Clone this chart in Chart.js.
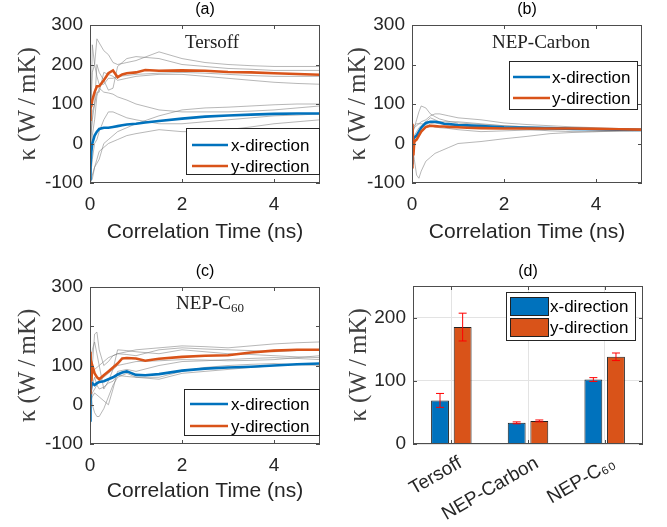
<!DOCTYPE html>
<html>
<head>
  <meta name="viewport" content="width=device-width, initial-scale=1.0">
  <title>Thermal conductivity panels</title>
  <script src="https://cdn.jsdelivr.net/npm/chart.js"></script>
  <style>
    body { margin: 0; padding: 0; background: #fff; }
    #wrap { position: relative; width: 667px; height: 527px; }
    canvas { position: absolute; }
  </style>
</head>
<body>
<div id="wrap">
  <canvas id="ca" width="333" height="255" style="left:0;top:0"></canvas>
  <canvas id="cb" width="334" height="255" style="left:333px;top:0"></canvas>
  <canvas id="cc" width="333" height="272" style="left:0;top:255px"></canvas>
  <canvas id="cd" width="334" height="272" style="left:333px;top:255px"></canvas>
</div>
<script>
  // time grids (ns)
  const tMain = [0, 0.01, 0.03, 0.05, 0.1, 0.15, 0.2, 0.3, 0.4, 0.5, 0.6, 0.7, 0.8, 1, 1.2, 1.5, 2, 2.5, 3, 3.5, 4, 4.5, 5];
  const tGrid = [0, 0.05, 0.1, 0.15, 0.2, 0.3, 0.4, 0.5, 0.6, 0.8, 1, 1.5, 2, 2.5, 3, 3.5, 4, 4.5, 5];

  // (a) Tersoff
  const tersoffX = [-90, -60, -20, 0, 20, 30, 37, 40, 40, 42, 44, 46, 48, 50, 53, 57, 63, 68, 71, 73, 75, 76, 76];
  const tersoffY = [60, 90, 95, 110, 130, 145, 145, 160, 178, 185, 168, 175, 178, 180, 186, 184, 185, 184, 181, 180, 178, 176, 174];
  const tersoffRuns = [
    [-100, 250, 200, 265, 255, 235, 225, 205, 200, 205, 210, 232, 215, 205, 200, 197, 195, 195, 195],
    [-50, 80, 100, 200, 180, 160, 135, 140, 195, 215, 220, 215, 200, 195, 190, 188, 185, 185, 185],
    [0, 60, 100, 130, 130, 180, 175, 170, 160, 165, 170, 175, 175, 170, 165, 160, 155, 152, 150],
    [-100, 20, 60, 120, 140, 130, 128, 125, 118, 110, 100, 85, 80, 80, 80, 82, 85, 90, 95],
    [-100, -80, -60, -50, -40, 0, 10, 20, 30, 40, 50, 70, 85, 90, 92, 95, 98, 100, 100],
    [-100, -90, -60, -40, -20, -10, 0, 5, 10, 20, 25, 35, 30, 30, 35, 42, 50, 55, 60],
    [50, 180, 200, 170, 150, 150, 165, 165, 170, 172, 175, 178, 180, 178, 175, 172, 170, 170, 170],
    [-100, -40, 0, 10, 30, 60, 80, 80, 75, 65, 60, 50, 50, 55, 60, 65, 70, 72, 75]
  ];

  // (b) NEP-Carbon
  const carbonX = [-50, -20, 10, 15, 20, 30, 40, 52, 55, 55, 53, 50, 49, 47, 46, 44, 41, 40, 39, 37, 36, 35, 34];
  const carbonY = [-60, 50, -30, 5, 10, 20, 30, 42, 45, 44, 43, 43, 42, 41, 40, 39, 38, 38, 38, 38, 37, 36, 35];
  const carbonRuns = [
    [0, -40, -80, -88, -70, -45, -35, -25, -20, -10, 0, 5, 12, 18, 25, 28, 30, 32, 33],
    [20, 40, 60, 80, 95, 90, 75, 68, 62, 56, 52, 48, 45, 42, 40, 39, 38, 36, 35],
    [30, 40, 45, 50, 55, 60, 70, 75, 75, 70, 65, 60, 52, 48, 45, 42, 40, 38, 37],
    [0, 20, 30, 40, 45, 55, 65, 60, 55, 55, 55, 50, 45, 42, 40, 39, 38, 37, 36],
    [40, 45, 50, 50, 50, 48, 45, 42, 40, 38, 35, 30, 32, 34, 35, 35, 35, 34, 34],
    [-20, 0, 10, 20, 30, 40, 50, 52, 50, 48, 45, 42, 40, 36, 32, 30, 30, 31, 32]
  ];

  // (c) NEP-C60
  const c60X = [-40, 30, 50, 55, 50, 55, 58, 60, 65, 70, 77, 82, 85, 76, 75, 78, 87, 92, 95, 97, 100, 103, 105];
  const c60Y = [30, 135, 60, 100, 80, 70, 65, 75, 85, 95, 105, 118, 119, 118, 112, 117, 122, 125, 126, 133, 138, 140, 140];
  const c60Runs = [
    [-100, 100, 180, 185, 140, 100, 110, 125, 130, 135, 140, 145, 150, 148, 145, 150, 155, 158, 160],
    [50, 0, -20, -30, -30, -10, 20, 50, 70, 80, 70, 65, 80, 85, 90, 95, 100, 102, 105],
    [100, 140, 160, 130, 100, 40, 60, 90, 140, 138, 135, 130, 140, 135, 130, 128, 125, 122, 120],
    [0, 20, 30, 25, 20, 10, 0, 40, 85, 90, 85, 100, 110, 112, 115, 118, 120, 118, 115],
    [50, 80, 90, 95, 100, 110, 120, 125, 130, 128, 125, 140, 145, 142, 140, 138, 135, 138, 140],
    [20, 50, 70, 50, 40, 45, 55, 60, 75, 72, 70, 70, 85, 95, 100, 103, 105, 102, 100],
    [0, 30, 40, 50, 60, 70, 80, 90, 100, 105, 110, 112, 115, 114, 112, 113, 115, 120, 125]
  ];

  // (d) averages
  const models = ['Tersoff', 'NEP-Carbon', 'NEP-C\u2086\u2080'];
  const kappaX = [69, 33.5, 102];
  const kappaY = [185, 36.5, 138];
  const errX = [11, 1.5, 3];
  const errY = [22, 1.5, 6];

  const BLUE = '#0072BD', ORANGE = '#D95319';
  const SANS = "'Liberation Sans', Arial, sans-serif";
  const SERIF = "'Liberation Serif', 'Times New Roman', serif";
  const AXC = '#262626';

  const pairs = (ts, vs) => ts.map((t, i) => ({ x: t, y: vs[i] }));

  // frame, inner ticks, panel title, text note, legend box
  const decor = {
    id: 'decor',
    afterDraw(chart, args, o) {
      const ctx = chart.ctx, a = chart.chartArea;
      const xs = chart.scales.x, ys = chart.scales.y;
      ctx.save();
      ctx.strokeStyle = '#4d4d4d';
      ctx.lineWidth = 1;
      ctx.strokeRect(Math.round(a.left) + 0.5, Math.round(a.top) + 0.5,
        Math.round(a.right - a.left) - 1, Math.round(a.bottom - a.top) - 1);
      ctx.beginPath();
      xs.ticks.forEach((t, i) => {
        const p = Math.round(xs.getPixelForTick(i)) + 0.5;
        ctx.moveTo(p, a.bottom); ctx.lineTo(p, a.bottom - 4);
        ctx.moveTo(p, a.top); ctx.lineTo(p, a.top + 4);
      });
      ys.ticks.forEach((t, i) => {
        const p = Math.round(ys.getPixelForTick(i)) + 0.5;
        ctx.moveTo(a.left, p); ctx.lineTo(a.left + 4, p);
        ctx.moveTo(a.right, p); ctx.lineTo(a.right - 4, p);
      });
      ctx.stroke();

      ctx.fillStyle = '#000';
      ctx.textAlign = 'center';
      ctx.textBaseline = 'middle';
      ctx.font = '16px ' + SANS;
      ctx.fillText(o.title, (a.left + a.right) / 2, o.titleY);

      if (o.note) {
        ctx.font = '19px ' + SERIF;
        ctx.fillStyle = '#222';
        const w1 = ctx.measureText(o.note).width;
        ctx.font = '13px ' + SERIF;
        const w2 = o.sub ? ctx.measureText(o.sub).width : 0;
        let x0 = o.noteX - (w1 + w2) / 2;
        ctx.textAlign = 'left';
        ctx.font = '19px ' + SERIF;
        ctx.fillText(o.note, x0, o.noteY);
        if (o.sub) {
          ctx.font = '13px ' + SERIF;
          ctx.fillText(o.sub, x0 + w1, o.noteY + 5);
        }
      }

      const L = o.legend;
      ctx.fillStyle = '#fff';
      ctx.fillRect(L.x, L.y, L.w, L.h);
      ctx.strokeStyle = AXC;
      ctx.strokeRect(L.x + 0.5, L.y + 0.5, L.w, L.h);
      const items = chart.data.datasets.filter(d => d.label);
      items.sort((p, q) => (p.legendRank || 0) - (q.legendRank || 0));
      ctx.textAlign = 'left';
      ctx.font = '17px ' + SANS;
      items.forEach((d, i) => {
        const y = L.rows[i];
        if (L.box) {
          ctx.fillStyle = d.backgroundColor;
          ctx.fillRect(L.k0, y - 9, L.k1 - L.k0, 18);
          ctx.strokeStyle = '#222';
          ctx.strokeRect(L.k0 + 0.5, y - 9 + 0.5, L.k1 - L.k0, 18);
        } else {
          ctx.strokeStyle = d.borderColor;
          ctx.lineWidth = 2.5;
          ctx.beginPath(); ctx.moveTo(L.k0, y); ctx.lineTo(L.k1, y); ctx.stroke();
        }
        ctx.fillStyle = '#000';
        ctx.fillText(d.label, L.tx, y + 1);
      });
      ctx.restore();
    }
  };

  // error bars on top of bars
  const errorBars = {
    id: 'errorBars',
    afterDatasetsDraw(chart) {
      const ctx = chart.ctx, ys = chart.scales.y;
      ctx.save();
      ctx.strokeStyle = '#ff0000';
      ctx.lineWidth = 1;
      chart.data.datasets.forEach((d, i) => {
        chart.getDatasetMeta(i).data.forEach((bar, j) => {
          const hi = ys.getPixelForValue(d.data[j] + d.err[j]);
          const lo = ys.getPixelForValue(d.data[j] - d.err[j]);
          ctx.beginPath();
          ctx.moveTo(bar.x, hi); ctx.lineTo(bar.x, lo);
          ctx.moveTo(bar.x - 4, hi); ctx.lineTo(bar.x + 4, hi);
          ctx.moveTo(bar.x - 4, lo); ctx.lineTo(bar.x + 4, lo);
          ctx.stroke();
        });
      });
      ctx.restore();
    }
  };

  function yTitle(pad) {
    return { display: true, text: '\u03BA (W\u2009/\u2009mK)', color: '#404040', font: { family: SERIF, size: 25 }, padding: { top: pad, bottom: 0 } };
  }

  function lineChart(id, xs, ysr, runs, g) {
    const datasets = [
      { label: 'y-direction', legendRank: 2, data: pairs(tMain, ysr), borderColor: ORANGE, borderWidth: 2.6, order: 0 },
      { label: 'x-direction', legendRank: 1, data: pairs(tMain, xs), borderColor: BLUE, borderWidth: 2.6, order: 1 }
    ];
    runs.forEach(r => datasets.push({ label: '', data: pairs(tGrid, r), borderColor: 'rgba(125,125,125,0.7)', borderWidth: 0.8, order: 2 }));
    datasets.forEach(d => { d.pointRadius = 0; d.tension = 0; d.fill = false; });
    return new Chart(document.getElementById(id), {
      type: 'line',
      data: { datasets },
      plugins: [decor],
      options: {
        responsive: false, animation: false, events: [],
        layout: { padding: { left: 0, top: g.top, right: g.right, bottom: 0 } },
        plugins: {
          legend: { display: false }, tooltip: { enabled: false },
          decor: g.decor
        },
        scales: {
          x: {
            type: 'linear', min: 0, max: 5,
            grid: { display: false, drawTicks: false }, border: { display: false },
            ticks: { stepSize: 2, color: AXC, font: { family: SANS, size: 19 }, padding: 10 },
            afterBuildTicks: s => { s.ticks = s.ticks.filter(t => t.value % 2 === 0); },
            afterFit: s => { s.height = g.xH; },
            title: { display: true, text: 'Correlation Time (ns)', color: AXC, font: { family: SANS, size: 21 }, padding: { top: 0, bottom: g.xTP } }
          },
          y: {
            min: -100, max: 300,
            grid: { display: false, drawTicks: false }, border: { display: false },
            ticks: { stepSize: 100, color: AXC, font: { family: SANS, size: 19 }, padding: 7 },
            afterFit: s => { s.width = g.yW; },
            title: yTitle(g.yTP)
          }
        }
      }
    });
  }

  lineChart('ca', tersoffX, tersoffY, tersoffRuns, {
    top: 25, right: 13, xH: 72, yW: 90, xTP: 10, yTP: 13,
    decor: { title: '(a)', titleY: 10, note: 'Tersoff', noteX: 212, noteY: 43,
      legend: { x: 186, y: 128, w: 133, h: 46, rows: [145, 166], k0: 192, k1: 228, tx: 231 } }
  });
  lineChart('cb', carbonX, carbonY, carbonRuns, {
    top: 25, right: 25, xH: 72, yW: 79, xTP: 10, yTP: 10,
    decor: { title: '(b)', titleY: 10, note: 'NEP-Carbon', noteX: 208, noteY: 43,
      legend: { x: 176, y: 61, w: 128, h: 48, rows: [77, 98], k0: 180, k1: 217, tx: 219 } }
  });
  lineChart('cc', c60X, c60Y, c60Runs, {
    top: 32, right: 13, xH: 83, yW: 90, xTP: 23, yTP: 13,
    decor: { title: '(c)', titleY: 17, note: 'NEP-C', sub: '60', noteX: 210, noteY: 49,
      legend: { x: 184, y: 134, w: 135, h: 46, rows: [149, 171], k0: 190, k1: 228, tx: 231 } }
  });

  new Chart(document.getElementById('cd'), {
    type: 'bar',
    data: {
      labels: models,
      datasets: [
        { label: 'x-direction', legendRank: 1, data: kappaX, err: errX, backgroundColor: BLUE, borderColor: '#222', borderWidth: 1 },
        { label: 'y-direction', legendRank: 2, data: kappaY, err: errY, backgroundColor: ORANGE, borderColor: '#222', borderWidth: 1 }
      ]
    },
    plugins: [errorBars, decor],
    options: {
      responsive: false, animation: false, events: [],
      categoryPercentage: 0.59, barPercentage: 0.79,
      layout: { padding: { left: 0, top: 31, right: 24, bottom: 0 } },
      plugins: {
        legend: { display: false }, tooltip: { enabled: false },
        decor: { title: '(d)', titleY: 17,
          legend: { box: true, x: 173, y: 37, w: 129, h: 48, rows: [51, 72], k0: 177, k1: 215, tx: 217 } }
      },
      scales: {
        x: {
          grid: { display: true, drawTicks: false, offset: false, color: '#e3e3e3' }, border: { display: false },
          ticks: { color: AXC, font: { family: SANS, size: 19 }, padding: 8, labelOffset: 9, minRotation: 30, maxRotation: 30, autoSkip: false },
          afterFit: s => { s.height = 83; }
        },
        y: {
          min: 0, max: 250,
          grid: { display: true, drawTicks: false, color: '#e3e3e3' }, border: { display: false },
          ticks: { stepSize: 100, color: AXC, font: { family: SANS, size: 19 }, padding: 7 },
          afterBuildTicks: s => { s.ticks = s.ticks.filter(t => t.value % 100 === 0); },
          afterFit: s => { s.width = 80; },
          title: yTitle(11)
        }
      }
    }
  });
</script>
</body>
</html>
